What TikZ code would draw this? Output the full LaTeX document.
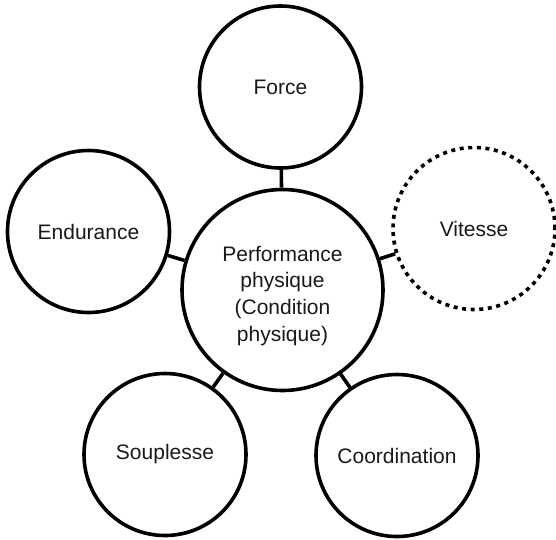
\documentclass[tikz,border=0pt]{standalone}
\usepackage{fontspec}
\setmainfont{Liberation Sans}
\begin{document}
\begin{tikzpicture}[x=1pt,y=-1pt,
  bubble/.style={circle,draw=black,line width=3.6pt,inner sep=0pt,minimum size=162pt,
    text=black!90,font=\fontsize{21}{26.7}\selectfont,align=center},
  hub/.style={bubble,minimum size=201pt},
  dotbubble/.style={bubble,dash pattern=on 4pt off 4.6pt},
  link/.style={line width=3.6pt,draw=black}]
\useasboundingbox (0,0) rectangle (556,539);
\node[hub] (perf) at (282.5,290) {\rule{0pt}{27pt}Performance\\physique\\(Condition\\physique)};
\node[bubble] (force) at (280.5,87) {Force};
\node[bubble] (endu) at (88.5,231.5) {Endurance};
\node[dotbubble] (vit) at (474,228.5) {Vitesse};
\node[bubble] (soup) at (165,454.5) {Souplesse};
\node[bubble] (coord) at (397,455.5) {Coordination};
\draw[link] (perf) -- (force);
\draw[link] (perf) -- (endu);
\draw[link] (perf) -- (vit);
\draw[link] (perf) -- (soup);
\draw[link] (perf) -- (coord);
\end{tikzpicture}
\end{document}
